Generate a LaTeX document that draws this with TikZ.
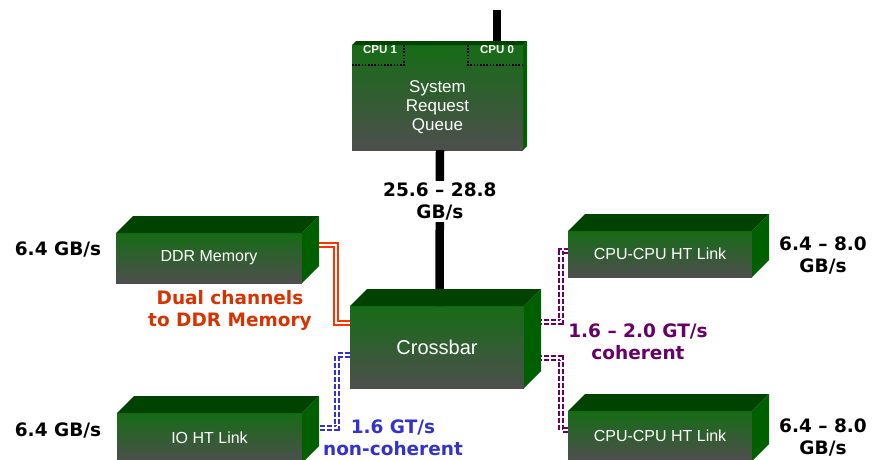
\documentclass[tikz,border=0pt]{standalone}
\usepackage{fontspec}
\setmainfont{Liberation Sans}
\newfontfamily\ratefont{DejaVu Sans}
\usepackage{tikz}
\usetikzlibrary{calc}
\definecolor{boxtop}{RGB}{22,108,22}
\definecolor{boxbot}{RGB}{78,78,78}
\definecolor{boxlid}{RGB}{0,66,0}
\definecolor{boxside}{RGB}{0,96,0}
\definecolor{ddrred}{RGB}{255,51,0}
\definecolor{ddrtext}{RGB}{214,51,0}
\definecolor{cohpurple}{RGB}{102,0,102}
\definecolor{ncblue}{RGB}{51,51,204}

\begin{document}
\begin{tikzpicture}[x=1pt, y=-1pt, inner sep=0pt, outer sep=0pt,
		box/.style={rectangle, top color=boxtop, bottom color=boxbot, text=white, align=center, font=\fontsize{16}{19}\selectfont},
		rate/.style={align=center, font=\ratefont\bfseries\fontsize{18.5}{22}\selectfont},
		bus/.style={line width=8.5pt},
		ddrlink/.style={draw=ddrred, line width=2pt, double=white, double distance=2pt},
		htlink/.style={line width=1.7pt, double=white, double distance=2.6pt, dash pattern=on 5pt off 2pt}]
	\useasboundingbox (0,0) rectangle (872,459);
	\clip (0,0) rectangle (872,459);
	
	% front faces
	\node[box, minimum width=171pt, minimum height=105pt, label={[yshift=-10pt, text=white, align=center, font=\fontsize{17}{19}\selectfont]center:System\\Request\\Queue}](srq) at (437.5,97.5) {};
	\node[box, minimum width=186pt, minimum height=50pt](ddr) at (209,258) {DDR Memory};
	\node[box, minimum width=174pt, minimum height=82pt, font=\fontsize{20}{24}\selectfont](xbar) at (437,347) {Crossbar};
	\node[box, minimum width=184pt, minimum height=46pt](cpuA) at (660,254) {CPU-CPU HT Link};
	\node[box, minimum width=184pt, minimum height=50pt](cpuB) at (660,436) {CPU-CPU HT Link};
	\node[box, minimum width=185pt, minimum height=50pt](io) at (209.5,438) {IO HT Link};
	
	% links
	\coordinate (cpubus) at (497,10);
	\draw[bus] (cpubus) -- (cpubus |- srq.north);
	\draw[bus] ([xshift=2.5pt]srq.south) -- node[pos=0.33, rate, fill=white, inner sep=2pt](bw) {25.6 – 28.8\\GB/s} ([xshift=2.5pt]xbar.north);
	\draw[ddrlink] ([shift={(10,-13)}]ddr.east) -- ++(24,0) |- ([yshift=24pt]xbar.west);
	\draw[htlink, cohpurple] ([shift={(6,-25)}]xbar.east) -- ++(31,0) |- ([yshift=3pt]cpuA.west);
	\draw[htlink, cohpurple] ([shift={(6,11)}]xbar.east) -- ++(31,0) |- ([yshift=6pt]cpuB.west);
	\draw[htlink, ncblue] ([yshift=-8pt]xbar.west) -- ++(-13,0) |- ([shift={(3,-10)}]io.east);
	
	% top and side faces
	\foreach \b/\d in {srq/4, ddr/17, xbar/17, cpuA/17, cpuB/17, io/17} {
		\fill[boxside] (\b.north east) -- ++(\d,-\d) -- ($(\b.south east)+(\d,-\d)$) -- (\b.south east) -- cycle;
		\fill[boxlid] (\b.north west) -- ++(\d,-\d) -- ($(\b.north east)+(\d,-\d)$) -- (\b.north east) -- cycle;
	}
	
	% cpu slots
	\draw[line width=1.6pt, dash pattern=on 1.6pt off 1.6pt] ([xshift=52pt]srq.north west) |- ([yshift=-20pt]srq.north west);
	\draw[line width=1.6pt, dash pattern=on 1.6pt off 1.6pt] ([xshift=-55pt]srq.north east) |- ([yshift=-20pt]srq.north east);
	\node[text=white, font=\bfseries\fontsize{11.5}{13}\selectfont](cpu1) at (380,50) {CPU 1};
	\node[text=white, font=\bfseries\fontsize{11.5}{13}\selectfont](cpu0) at (497,50) {CPU 0};
	
	% rates
	\node[rate](ddrrate) at (58,249) {6.4 GB/s};
	\node[rate](iorate) at (58,430) {6.4 GB/s};
	\node[rate](cpuArate) at (823,255) {6.4 – 8.0\\GB/s};
	\node[rate](cpuBrate) at (823,437) {6.4 – 8.0\\GB/s};
	\node[rate, text=ddrtext](ddrnote) at (230,310) {Dual channels\\to DDR Memory};
	\node[rate, text=cohpurple](cohnote) at (638,342) {1.6 – 2.0 GT/s\\coherent};
	\node[rate, text=ncblue](ncnote) at (393,438) {1.6 GT/s\\non-coherent};
\end{tikzpicture}
\end{document}
